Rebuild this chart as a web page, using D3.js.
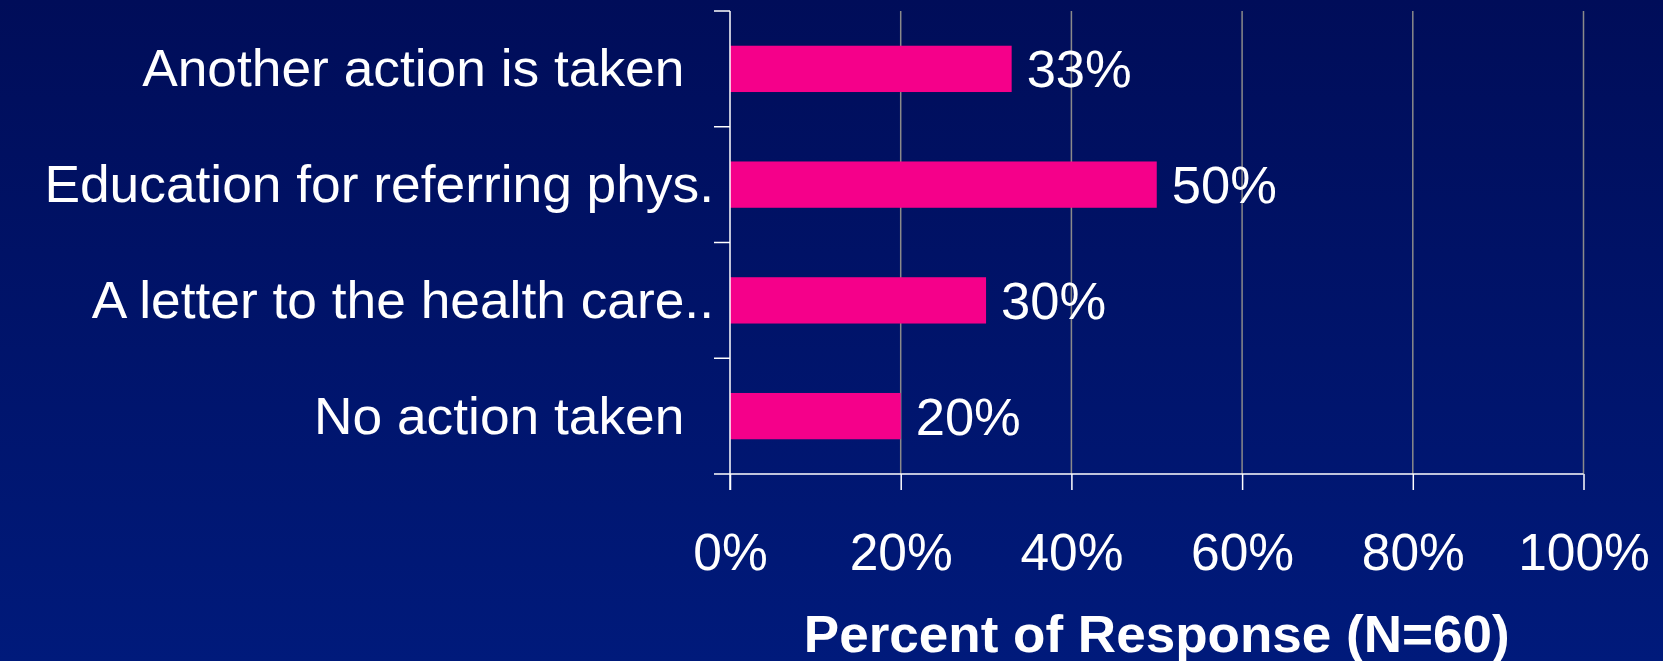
<!DOCTYPE html>
<html>
<head>
<meta charset="utf-8">
<script src="https://cdn.jsdelivr.net/npm/d3@7/dist/d3.min.js"></script>
<style>
  html, body { margin: 0; padding: 0; background: #000e5a; }
  svg { display: block; }
  text { font-family: "Liberation Sans", Arial, sans-serif; fill: #ffffff; white-space: pre; }
</style>
</head>
<body>
<svg id="chart" width="1663" height="661"></svg>
<script>
const categories = ["Another action is taken  ", "Education for referring phys.", "A letter to the health care..", "No action taken  "];
const values = [33, 50, 30, 20];
const valueLabels = ["33%", "50%", "30%", "20%"];
const tickValues = [0, 20, 40, 60, 80, 100];
const tickLabels = ["0%", "20%", "40%", "60%", "80%", "100%"];
const axisTitle = "Percent of Response (N=60)";

const W = 1663, H = 661;
const FS = 52;
const svg = d3.select("#chart");

const defs = svg.append("defs");
const grad = defs.append("linearGradient").attr("id", "bg").attr("x1", 0).attr("y1", 0).attr("x2", 0).attr("y2", 1);
grad.append("stop").attr("offset", "0%").attr("stop-color", "#000d59");
grad.append("stop").attr("offset", "100%").attr("stop-color", "#001a7b");
svg.append("rect").attr("width", W).attr("height", H).attr("fill", "url(#bg)");

const x = d3.scaleLinear().domain([0, 100]).range([730, 1583.5]);
const y = d3.scaleBand().domain(categories).range([11, 474]).paddingInner(0.6).paddingOuter(0.3);

function stretch(f) {
  return sel => sel.each(function () {
    const L = this.getComputedTextLength();
    d3.select(this).attr("textLength", L * f).attr("lengthAdjust", "spacingAndGlyphs");
  });
}

// gridlines
svg.append("g").selectAll("line").data(tickValues.filter(d => d > 0)).join("line")
  .attr("x1", d => x(d)).attr("x2", d => x(d))
  .attr("y1", y.range()[0]).attr("y2", y.range()[1])
  .attr("stroke", "#8a8a8a").attr("stroke-width", 1.5);

// bars
svg.append("g").selectAll("rect").data(categories).join("rect")
  .attr("x", x(0))
  .attr("y", d => y(d))
  .attr("width", (d, i) => x(values[i]) - x(0))
  .attr("height", y.bandwidth())
  .attr("fill", "#f5008a");

// value labels
svg.append("g").selectAll("text").data(categories).join("text")
  .attr("x", (d, i) => x(values[i]) + 15)
  .attr("y", d => y(d) + y.bandwidth() / 2 + 18.5)
  .attr("font-size", FS)
  .text((d, i) => valueLabels[i])
  .call(stretch(1.01));

// bottom axis
const xAxis = d3.axisBottom(x).tickValues(tickValues).tickSize(16).tickSizeOuter(0)
  .tickFormat((d, i) => tickLabels[i]);
const gx = svg.append("g").attr("transform", `translate(0,${y.range()[1]})`).call(xAxis);
gx.select(".domain").remove();
gx.selectAll(".tick line").attr("stroke", "#ffffff").attr("stroke-width", 1.5);
gx.selectAll(".tick text").attr("dy", null).attr("y", 96).attr("font-size", FS)
  .attr("font-family", "'Liberation Sans', Arial, sans-serif").attr("fill", "#ffffff").call(stretch(0.99));
svg.append("line").attr("x1", x(0) - 16).attr("x2", x(100))
  .attr("y1", y.range()[1]).attr("y2", y.range()[1])
  .attr("stroke", "#ffffff").attr("stroke-width", 1.5);

// left axis
svg.append("line").attr("x1", x(0)).attr("x2", x(0))
  .attr("y1", y.range()[0]).attr("y2", y.range()[1] + 16)
  .attr("stroke", "#ffffff").attr("stroke-width", 1.5);
const bounds = d3.range(categories.length + 1).map(i => y.range()[0] + i * y.step());
svg.append("g").selectAll("line").data(bounds.slice(0, categories.length)).join("line")
  .attr("x1", x(0) - 16).attr("x2", x(0))
  .attr("y1", d => d).attr("y2", d => d)
  .attr("stroke", "#ffffff").attr("stroke-width", 1.5);

// category labels
svg.append("g").selectAll("text").data(categories).join("text")
  .attr("x", 714)
  .attr("y", d => y(d) + y.bandwidth() / 2 + 17.5)
  .attr("text-anchor", "end")
  .attr("font-size", FS)
  .text(d => d)
  .call(stretch(1.025));

// axis title
svg.append("text")
  .attr("x", (x(0) + x(100)) / 2)
  .attr("y", 651.5)
  .attr("text-anchor", "middle")
  .attr("font-size", FS)
  .attr("font-weight", "bold")
  .text(axisTitle)
  .call(stretch(1.02));
</script>
</body>
</html>
